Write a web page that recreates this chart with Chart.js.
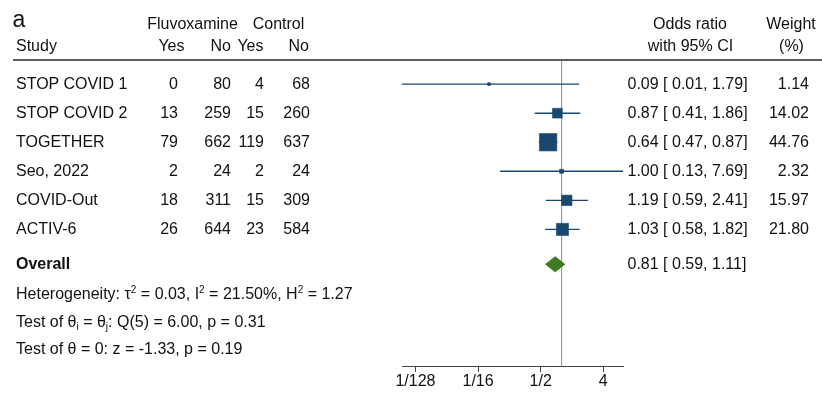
<!DOCTYPE html>
<html>
<head>
<meta charset="utf-8">
<title>Fluvoxamine meta-analysis forest plot</title>
<script src="https://cdn.jsdelivr.net/npm/chart.js@4.4.1/dist/chart.umd.min.js"></script>
<style>
  html, body { margin: 0; padding: 0; background: #fff; }
  #wrap { position: relative; width: 822px; height: 394px; overflow: hidden;
          font-family: "Liberation Sans", Arial, Helvetica, sans-serif; font-size: 16px; color: #111; }
  #plot { position: absolute; left: 0; top: 0; }
  .t { position: absolute; white-space: pre; line-height: 16px; transform: translateY(-50%); }
  .r { transform: translate(-100%, -50%); }
  .c { transform: translate(-50%, -50%); }
  .rule { position: absolute; left: 13px; top: 59px; width: 809px; height: 2px; background: #5c5c5c; }
  .sup { font-size: 10px; position: relative; top: -6px; }
  .sub { font-size: 10px; position: relative; top: 3px; }
</style>
</head>
<body>
<div id="wrap">
  <canvas id="plot" width="822" height="394"></canvas>
  <div class="rule"></div>
  <div id="labels"></div>
</div>
<script>
// Study-level data
const studies  = ['STOP COVID 1', 'STOP COVID 2', 'TOGETHER', 'Seo, 2022', 'COVID-Out', 'ACTIV-6'];
const fluvYes  = [0, 13, 79, 2, 18, 26];
const fluvNo   = [80, 259, 662, 24, 311, 644];
const ctrlYes  = [4, 15, 119, 2, 15, 23];
const ctrlNo   = [68, 260, 637, 24, 309, 584];
const oddsRatio = [0.09, 0.87, 0.64, 1.00, 1.19, 1.03];
const ciLower   = [0.005, 0.41, 0.47, 0.13, 0.59, 0.58];
const ciUpper   = [1.79, 1.86, 0.87, 7.69, 2.41, 1.82];
const weights   = [1.14, 14.02, 44.76, 2.32, 15.97, 21.80];

// Pooled random-effects estimate
const overallOR    = 0.81;
const overallLower = 0.59;
const overallUpper = 1.11;

// Heterogeneity and test statistics
const tau2 = 0.03, iSquared = 21.50, hSquared = 1.27;
const qStat = 6.00, qDf = 5, qP = 0.31;
const zStat = -1.33, zP = 0.19;

// Axis ticks
const tickValues = [1 / 128, 1 / 16, 1 / 2, 4];
const tickLabels = ['1/128', '1/16', '1/2', '4'];

// Row layout on the y scale
const rows = studies.map((_, i) => i + 1);
const overallRow = 7.2;
const statRows = [8.26, 9.21, 10.12];
const yMin = 0.17, yMax = 10.7;
const diamondHalf = 0.26;

const navy = '#1a476f';
const green = '#3d7a21';
const FONT = '"Liberation Sans", Arial, Helvetica, sans-serif';

const xMin = Math.min(...ciLower, overallLower);
const xMax = Math.max(...ciUpper, overallUpper);

// square side grows with the square root of the study weight (plus a thin outline)
const markerRadius = w => 2.6 * Math.sqrt(w) / Math.SQRT2;

const fmt = v => v.toFixed(2);
const ciText = (est, lo, hi) => `${fmt(est)} [ ${fmt(lo)}, ${fmt(hi)}]`;

const refLine = {
  type: 'line', order: 10,
  data: [{ x: 1, y: yMin }, { x: 1, y: yMax }],
  borderColor: '#9a9a9a', borderWidth: 1, pointRadius: 0, fill: false
};

const ciLines = studies.map((s, i) => ({
  type: 'line', order: 5, label: s,
  data: [{ x: ciLower[i], y: rows[i] }, { x: ciUpper[i], y: rows[i] }],
  borderColor: navy, borderWidth: 1.4, pointRadius: 0, fill: false
}));

const diamond = {
  type: 'line', order: 3,
  data: [
    { x: overallLower, y: overallRow },
    { x: overallOR, y: overallRow - diamondHalf },
    { x: overallUpper, y: overallRow },
    { x: overallOR, y: overallRow + diamondHalf },
    { x: overallLower, y: overallRow }
  ],
  borderColor: green, borderWidth: 1, backgroundColor: green,
  pointRadius: 0, fill: 'shape', tension: 0
};

const squares = {
  type: 'scatter', order: 1,
  data: studies.map((s, i) => ({ x: oddsRatio[i], y: rows[i] })),
  pointStyle: 'rect',
  pointRadius: weights.map(markerRadius),
  backgroundColor: navy, borderColor: navy, borderWidth: 0.6
};

function addText(parent, html, x, y, cls, extra) {
  const d = document.createElement('div');
  d.className = 't' + (cls ? ' ' + cls : '');
  d.style.left = x + 'px';
  d.style.top = y + 'px';
  if (extra) Object.assign(d.style, extra);
  d.innerHTML = html;
  parent.appendChild(d);
}

const tablePlugin = {
  id: 'forestTable',
  afterDraw(chart) {
    if (chart.$tableDone) return;
    chart.$tableDone = true;
    const y = chart.scales.y;
    const box = document.getElementById('labels');

    // headers
    addText(box, 'a', 12.5, 19, '', { fontSize: '23px', lineHeight: '23px' });
    addText(box, 'Fluvoxamine', 192.5, 24, 'c');
    addText(box, 'Control', 278.5, 24, 'c');
    addText(box, 'Odds ratio', 690, 24, 'c');
    addText(box, 'Weight', 791, 24, 'c');
    addText(box, 'Study', 16, 46);
    addText(box, 'Yes', 184.5, 46, 'r');
    addText(box, 'No', 231, 46, 'r');
    addText(box, 'Yes', 263.5, 46, 'r');
    addText(box, 'No', 309, 46, 'r');
    addText(box, 'with 95% CI', 690.5, 46, 'c');
    addText(box, '(%)', 791.5, 46, 'c');

    // study rows
    studies.forEach((s, i) => {
      const py = y.getPixelForValue(rows[i]);
      addText(box, s, 16, py);
      addText(box, String(fluvYes[i]), 178, py, 'r');
      addText(box, String(fluvNo[i]), 231, py, 'r');
      addText(box, String(ctrlYes[i]), 264, py, 'r');
      addText(box, String(ctrlNo[i]), 310, py, 'r');
      addText(box, ciText(oddsRatio[i], ciLower[i], ciUpper[i]), 627.5, py);
      addText(box, fmt(weights[i]), 809, py, 'r');
    });

    // pooled row and statistics
    const po = y.getPixelForValue(overallRow);
    addText(box, '<b>Overall</b>', 16, po);
    addText(box, ciText(overallOR, overallLower, overallUpper), 627.5, po);
    addText(box, `Heterogeneity: &tau;<span class="sup">2</span> = ${fmt(tau2)}, I<span class="sup">2</span> = ${fmt(iSquared)}%, H<span class="sup">2</span> = ${fmt(hSquared)}`,
            16, y.getPixelForValue(statRows[0]));
    addText(box, `Test of &theta;<span class="sub">i</span> = &theta;<span class="sub">j</span>: Q(${qDf}) = ${fmt(qStat)}, p = ${fmt(qP)}`,
            16, y.getPixelForValue(statRows[1]));
    addText(box, `Test of &theta; = 0: z = ${fmt(zStat)}, p = ${fmt(zP)}`,
            16, y.getPixelForValue(statRows[2]));
  }
};

new Chart(document.getElementById('plot'), {
  type: 'scatter',
  data: { datasets: [refLine, ...ciLines, diamond, squares] },
  options: {
    responsive: false,
    animation: false,
    events: [],
    layout: { padding: { left: 402, right: 199, top: 60, bottom: 0 }, autoPadding: false },
    plugins: { legend: { display: false }, tooltip: { enabled: false } },
    scales: {
      x: {
        type: 'logarithmic', min: xMin, max: xMax, bounds: 'data',
        afterBuildTicks: s => { s.ticks = tickValues.map(v => ({ value: v })); },
        afterFit: s => { s.height = 28; },
        ticks: {
          autoSkip: false, maxRotation: 0, minRotation: 0, padding: 0, color: '#111',
          font: { family: FONT, size: 16 },
          callback: (v, i) => tickLabels[i]
        },
        grid: { display: true, drawOnChartArea: false, drawTicks: true, tickLength: 6, color: '#444', lineWidth: 1 },
        border: { display: true, color: '#444', width: 1 }
      },
      y: { type: 'linear', display: false, reverse: true, min: yMin, max: yMax }
    }
  },
  plugins: [tablePlugin]
});
</script>
</body>
</html>
